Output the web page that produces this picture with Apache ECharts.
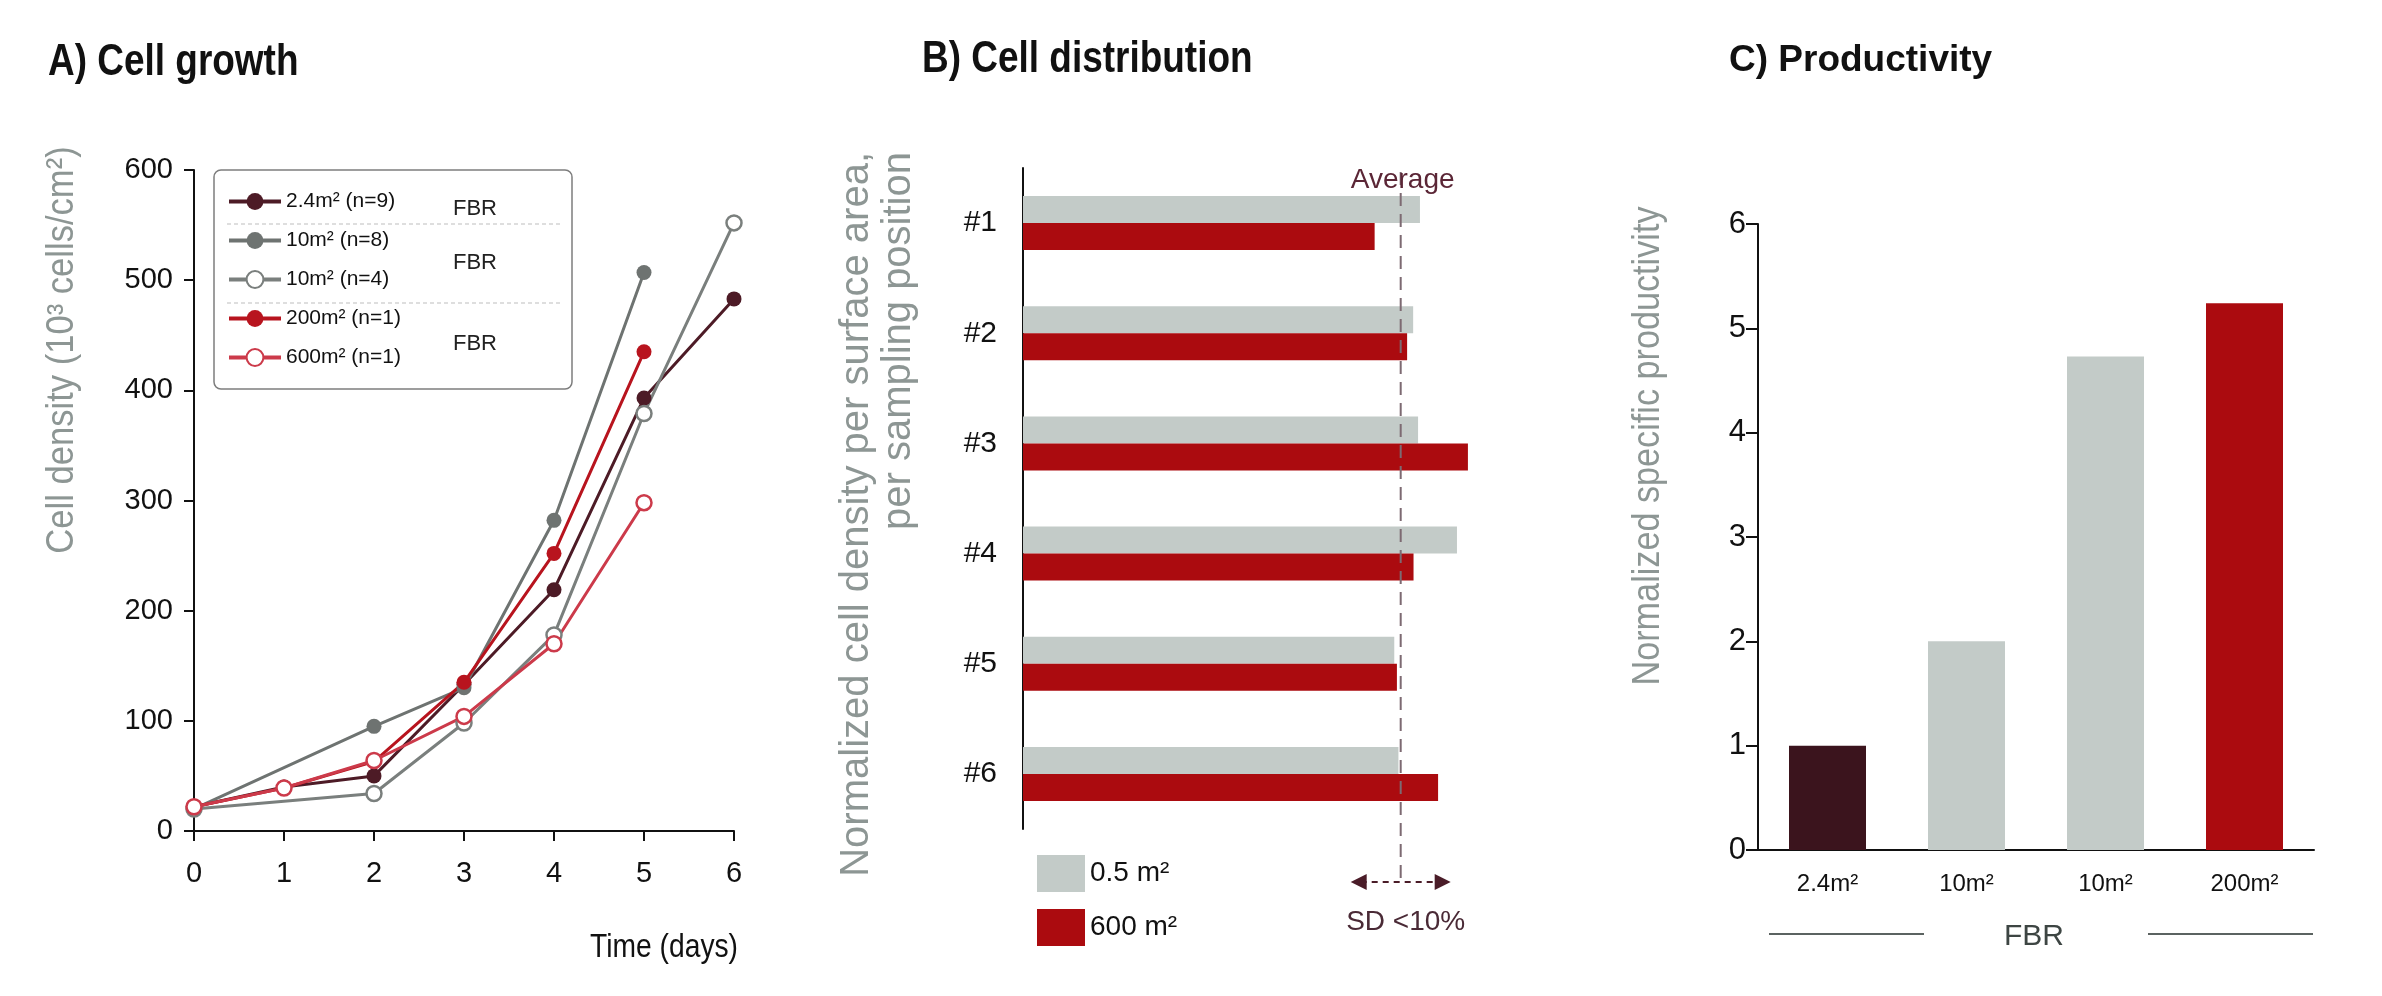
<!DOCTYPE html>
<html>
<head>
<meta charset="utf-8">
<script src="https://cdn.jsdelivr.net/npm/echarts@6/dist/echarts.min.js"></script>
<style>
  html, body { margin: 0; padding: 0; background: #fff; }
  #main { width: 2382px; height: 996px; }
</style>
</head>
<body>
<div id="main"></div>
<script>
// A) cell growth, 10^3 cells/cm2 per day (null = not sampled)
const days = [0, 1, 2, 3, 4, 5, 6];
const growthNames = ["2.4m² (n=9)", "10m² (n=8)", "10m² (n=4)", "200m² (n=1)", "600m² (n=1)"];
const fbr24 = [22, 40, 50, 133, 219, 393, 483];
const fbr10a = [20, null, 95, 130, 282, 507, null];
const fbr10b = [20, null, 34, 98, 178, 379, 552];
const fbr200 = [22, 39, 63, 135, 252, 435, null];
const fbr600 = [22, 39, 64, 104, 170, 298, null];

// B) normalized cell density per sampling position
const positions = ["#1", "#2", "#3", "#4", "#5", "#6"];
const distNames = ["0.5 m²", "600 m²"];
const dist05 = [1.051, 1.033, 1.046, 1.149, 0.983, 0.994];
const dist600 = [0.931, 1.017, 1.178, 1.034, 0.990, 1.099];
const distAverage = 1.0;

// C) normalized specific productivity
const prodCats = ["2.4m²", "10m²", "10m²", "200m²"];
const prodValues = [1.0, 2.0, 4.73, 5.24];

// no narrow font in the sandbox, so narrow text is squeezed with scaleX
const REG = "'Liberation Sans', Arial, sans-serif";
const MAROON = "#4d1b26", DGRAY = "#6e7371", OGRAY = "#7a7f7d", RED = "#b8141e", PINK = "#cc3a4a";
const BARGRAY = "#c3cbc8", BARRED = "#ab0b0f";
const prodColors = ["#3b141d", BARGRAY, BARGRAY, BARRED];
const NAMEGRAY = "#8d9694";

const toPoints = (vals) => days.map((d, i) => [d, vals[i]]).filter((p) => p[1] != null);

const lineSeries = (name, vals, color, open) => ({
  name,
  type: "line",
  xAxisIndex: 0,
  yAxisIndex: 0,
  data: toPoints(vals),
  symbol: "circle",
  symbolSize: 15,
  lineStyle: { color, width: 3 },
  itemStyle: open
    ? { color: "#fff", borderColor: color, borderWidth: 2.5 }
    : { color, borderColor: color, borderWidth: 0 },
  z: 3,
});

const axisLine = { show: true, lineStyle: { color: "#111", width: 2 } };
const axisTick = (len) => ({ show: true, length: len, lineStyle: { color: "#111", width: 2 } });

const chart = echarts.init(document.getElementById("main"));

chart.setOption({
  animation: false,
  grid: [
    { left: 194, top: 170, width: 540, height: 661 },
    { left: 1023, top: 168, width: 491, height: 661 },
    { left: 1758, top: 224, width: 556, height: 626 },
  ],
  xAxis: [
    { gridIndex: 0, type: "value", min: 0, max: 6, interval: 1,
      axisLine, axisTick: axisTick(10), splitLine: { show: false },
      axisLabel: { fontFamily: REG, fontSize: 29, color: "#111", margin: 28 } },
    { gridIndex: 1, type: "value", min: 0, max: 1.3, show: false },
    { gridIndex: 2, type: "category", data: prodCats,
      axisLine, axisTick: { show: false },
      axisLabel: { fontFamily: REG, fontSize: 24, color: "#111", margin: 22 } },
  ],
  yAxis: [
    { gridIndex: 0, type: "value", min: 0, max: 600, interval: 100,
      axisLine, axisTick: axisTick(10), splitLine: { show: false },
      axisLabel: { fontFamily: REG, fontSize: 29, color: "#111", margin: 21 } },
    { gridIndex: 1, type: "category", data: positions, inverse: true,
      axisLine, axisTick: { show: false },
      axisLabel: { fontFamily: REG, fontSize: 30, color: "#111", margin: 26 } },
    { gridIndex: 2, type: "value", min: 0, max: 6, interval: 1,
      axisLine, axisTick: axisTick(12), splitLine: { show: false },
      axisLabel: { fontFamily: REG, fontSize: 31, color: "#111", margin: 12 } },
  ],
  legend: [
    { data: growthNames, orient: "vertical", left: 227, top: 191, padding: 0,
      itemWidth: 52, itemHeight: 21, itemGap: 18, selectedMode: false,
      lineStyle: { width: 4 },
      textStyle: { fontFamily: REG, fontSize: 21, color: "#111" } },
    { data: distNames, orient: "vertical", left: 1037, top: 855, padding: 0,
      icon: "rect", itemWidth: 48, itemHeight: 37, itemGap: 17, selectedMode: false,
      textStyle: { fontFamily: REG, fontSize: 28, color: "#111" } },
  ],
  series: [
    lineSeries(growthNames[0], fbr24, MAROON, false),
    lineSeries(growthNames[1], fbr10a, DGRAY, false),
    lineSeries(growthNames[2], fbr10b, OGRAY, true),
    lineSeries(growthNames[3], fbr200, RED, false),
    lineSeries(growthNames[4], fbr600, PINK, true),
    { name: distNames[0], type: "bar", xAxisIndex: 1, yAxisIndex: 1, data: dist05,
      barWidth: 27, barGap: "0%", itemStyle: { color: BARGRAY } },
    { name: distNames[1], type: "bar", xAxisIndex: 1, yAxisIndex: 1, data: dist600,
      barWidth: 27, barGap: "0%", itemStyle: { color: BARRED } },
    { name: "productivity", type: "bar", xAxisIndex: 2, yAxisIndex: 2, barWidth: 77,
      data: prodValues.map((v, i) => ({ value: v, itemStyle: { color: prodColors[i] } })) },
  ],
});

// annotations that sit on the library's own scale
const avgX = chart.convertToPixel({ xAxisIndex: 1 }, distAverage);
const sdHalf = 50;
const ARROW = "#4a1c28";

const label = (x, y, text, size, opts) => Object.assign({
  type: "text", x, y, z: 10,
  style: Object.assign({ text, fontFamily: REG, fontSize: size, fill: "#111",
    align: "left", verticalAlign: "middle" }, (opts && opts.style) || {}),
}, opts && opts.el);

chart.setOption({
  graphic: [
    // panel titles
    label(48, 63, "A) Cell growth", 44, { el: { scaleX: 0.84 }, style: { fontWeight: "bold" } }),
    label(922, 60, "B) Cell distribution", 44, { el: { scaleX: 0.84 }, style: { fontWeight: "bold" } }),
    label(1729, 61, "C) Productivity", 37, { style: { fontWeight: "bold" } }),

    // legend frame of panel A
    { type: "rect", z: 0, shape: { x: 214, y: 170, width: 358, height: 219, r: 7 },
      style: { fill: "#fff", stroke: "#7d7d7d", lineWidth: 1.5 } },
    { type: "line", z: 1, shape: { x1: 227, y1: 224, x2: 560, y2: 224 },
      style: { stroke: "#bdbdbd", lineWidth: 1.2, lineDash: [4, 3] } },
    { type: "line", z: 1, shape: { x1: 227, y1: 303, x2: 560, y2: 303 },
      style: { stroke: "#bdbdbd", lineWidth: 1.2, lineDash: [4, 3] } },
    label(453, 209, "FBR", 22, { style: { fill: "#222" } }),
    label(453, 263, "FBR", 22, { style: { fill: "#222" } }),
    label(453, 344, "FBR", 22, { style: { fill: "#222" } }),

    // axis names
    label(63, 350, "Cell density (10³ cells/cm²)", 38,
      { el: { rotation: Math.PI / 2, scaleX: 0.91 }, style: { fill: NAMEGRAY, align: "center" } }),
    label(738, 948, "Time (days)", 34, { el: { scaleX: 0.83 }, style: { align: "right" } }),
    label(878, 152, "Normalized cell density per surface area,\nper sampling position", 40,
      { el: { rotation: Math.PI / 2 }, style: { fill: NAMEGRAY, align: "right", lineHeight: 42 } }),
    label(1649, 446, "Normalized specific productivity", 38,
      { el: { rotation: Math.PI / 2, scaleX: 0.9 }, style: { fill: NAMEGRAY, align: "center" } }),

    // average line and SD arrow of panel B
    { type: "line", z: 10, shape: { x1: avgX, y1: 172, x2: avgX, y2: 880 },
      style: { stroke: "#7d6a72", lineWidth: 2, lineDash: [13, 8] } },
    label(avgX + 2, 180, "Average", 28, { style: { fill: "#5b2636", align: "center" } }),
    { type: "line", z: 10, shape: { x1: avgX - sdHalf + 10, y1: 882, x2: avgX + sdHalf - 10, y2: 882 },
      style: { stroke: ARROW, lineWidth: 2, lineDash: [6, 5] } },
    { type: "polygon", z: 10, shape: { points: [[avgX - sdHalf, 882], [avgX - sdHalf + 16, 874], [avgX - sdHalf + 16, 890]] },
      style: { fill: ARROW } },
    { type: "polygon", z: 10, shape: { points: [[avgX + sdHalf, 882], [avgX + sdHalf - 16, 874], [avgX + sdHalf - 16, 890]] },
      style: { fill: ARROW } },
    label(avgX + 5, 922, "SD <10%", 28, { style: { fill: "#4a2a36", align: "center" } }),

    // FBR group label of panel C
    { type: "line", shape: { x1: 1769, y1: 934, x2: 1924, y2: 934 }, style: { stroke: "#5b6361", lineWidth: 2 } },
    { type: "line", shape: { x1: 2148, y1: 934, x2: 2313, y2: 934 }, style: { stroke: "#5b6361", lineWidth: 2 } },
    label(2034, 937, "FBR", 30, { style: { fill: "#3d4543", align: "center" } }),
  ],
});
</script>
</body>
</html>
